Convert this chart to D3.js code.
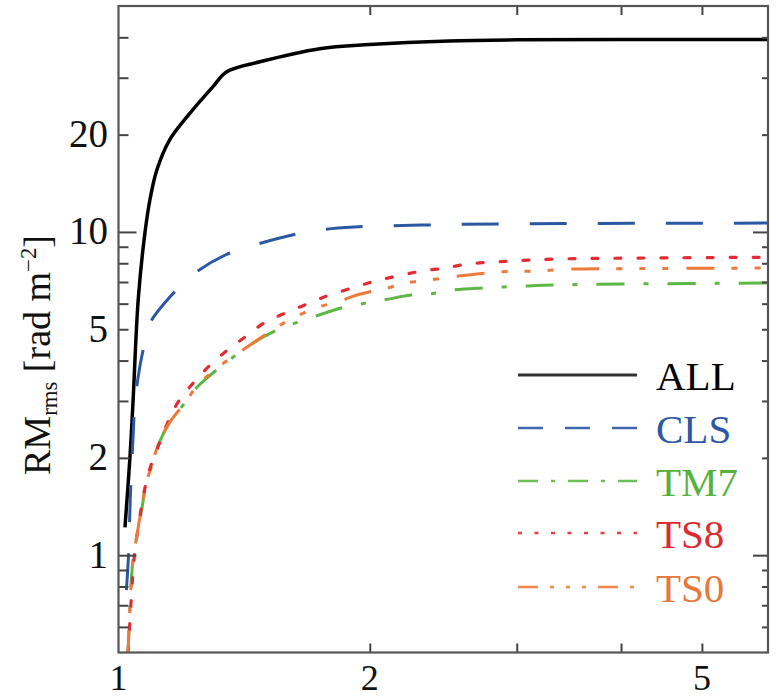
<!DOCTYPE html>
<html><head><meta charset="utf-8">
<script src="https://cdn.jsdelivr.net/npm/d3@7/dist/d3.min.js"></script>
<style>body{margin:0;background:#fff}svg{display:block}text{font-family:"Liberation Serif","Times New Roman",serif}</style>
</head><body>
<script>
// ---- data ----
const xTickLabels = [1, 2, 5];
const xMinorTicks = [2, 3, 4, 5];
const yTickLabels = [1, 2, 5, 10, 20];
const yMinorTicks = [0.6, 0.7, 0.8, 0.9, 1, 2, 3, 4, 5, 6, 7, 8, 9, 10, 20, 30, 40];
const yDecades = [1, 10];

const seriesNames = ["ALL", "CLS", "TM7", "TS8", "TS0"];
const seriesColors = ["#000000", "#2b57a3", "#5cb843", "#e32b33", "#ee7a3a"];
const textColors = ["#000000", "#2c58a4", "#56b23d", "#dd2a2f", "#e8783a"];

const allX = [1.018, 1.032, 1.041, 1.056, 1.076, 1.092, 1.112, 1.152, 1.218, 1.297, 1.348, 1.477, 1.742, 2.0, 2.49, 3.0, 4.0, 6.0];
const allY = [1.22, 2.0, 3.0, 6.2, 10.0, 12.8, 15.6, 19.3, 23.3, 28.1, 31.3, 33.6, 36.9, 38.0, 39.0, 39.3, 39.4, 39.4];

const clsX = [1.022, 1.028, 1.033, 1.04, 1.047, 1.06, 1.07, 1.085, 1.158, 1.235, 1.341, 1.457, 1.596, 1.74, 1.918, 2.3, 3.0, 6.0];
const clsY = [0.78, 1.0, 1.5, 2.2, 3.0, 3.8, 4.3, 5.1, 6.38, 7.46, 8.47, 9.12, 9.72, 10.14, 10.36, 10.5, 10.6, 10.65];

const tm7X = [1.026, 1.033, 1.04, 1.052, 1.067, 1.076, 1.094, 1.118, 1.152, 1.2, 1.245, 1.312, 1.444, 1.548, 1.727, 1.855, 2.08, 2.24, 2.38, 2.53, 2.73, 3.07, 3.31, 4.01, 6.0];
const tm7Y = [0.48, 0.72, 0.95, 1.15, 1.4, 1.6, 1.86, 2.22, 2.58, 2.95, 3.33, 3.75, 4.5, 4.97, 5.5, 5.83, 6.16, 6.38, 6.45, 6.62, 6.71, 6.8, 6.85, 6.9, 6.95];

const ts8X = [1.027, 1.035, 1.045, 1.06, 1.076, 1.094, 1.118, 1.146, 1.181, 1.228, 1.287, 1.352, 1.424, 1.5, 1.59, 1.686, 1.79, 1.91, 2.03, 2.16, 2.31, 2.46, 2.62, 2.8, 2.98, 3.39, 4.12, 6.0];
const ts8Y = [0.5, 0.71, 1.0, 1.3, 1.62, 1.9, 2.2, 2.58, 3.0, 3.4, 3.87, 4.32, 4.77, 5.26, 5.63, 6.0, 6.38, 6.72, 7.05, 7.31, 7.57, 7.73, 7.96, 8.06, 8.14, 8.25, 8.3, 8.35];

const ts0X = [1.026, 1.033, 1.04, 1.052, 1.064, 1.076, 1.094, 1.118, 1.152, 1.2, 1.245, 1.312, 1.444, 1.548, 1.627, 1.727, 1.84, 1.93, 2.1, 2.21, 2.36, 2.51, 2.67, 2.88, 3.05, 3.26, 3.47, 4.0, 6.0];
const ts0Y = [0.48, 0.72, 0.95, 1.15, 1.37, 1.6, 1.88, 2.22, 2.58, 2.95, 3.36, 3.79, 4.5, 5.08, 5.45, 5.83, 6.1, 6.38, 6.71, 6.95, 7.1, 7.26, 7.4, 7.53, 7.55, 7.6, 7.67, 7.7, 7.73];

const seriesX = [allX, clsX, tm7X, ts8X, ts0X];
const seriesY = [allY, clsY, tm7Y, ts8Y, ts0Y];

// ---- layout / styles ----
const W = 776, H = 697;
const L = 118.5, R = 768, T = 6, B = 652.5;
const dashes = [null, "37,31", "28,19,5,19", "6,17", "28,17,6,17,6,17,6,18"];
const legendDashes = [null, "25,22", "20,13,4,13", "4,12.5", "20,12,4,12,4,12,4,12"];
const widths = [3.5, 3, 3, 3.2, 3];
const fontSize = 39;

const svg = d3.select("body").append("svg").attr("width", W).attr("height", H);

const x = d3.scaleLog().domain([1, 6]).range([L, R]);
const y = d3.scaleLog().domain([0.5, 50]).range([B, T]);

svg.append("defs").append("clipPath").attr("id", "clip")
  .append("rect").attr("x", L).attr("y", T).attr("width", R - L).attr("height", B - T);

// curves
const line = d3.line().x(d => x(d[0])).y(d => y(d[1])).curve(d3.curveCatmullRom.alpha(0.5));
const g = svg.append("g").attr("clip-path", "url(#clip)");
seriesNames.forEach((n, i) => {
  const pts = seriesX[i].map((v, j) => [v, seriesY[i][j]]);
  g.append("path").datum(pts).attr("d", line)
    .attr("fill", "none").attr("stroke", seriesColors[i])
    .attr("stroke-width", widths[i])
    .attr("stroke-dasharray", dashes[i])
    .attr("stroke-linecap", i === 3 ? "round" : "butt")
    .attr("stroke-linejoin", "round");
});

// axes using d3 axis generators for ticks
const axColor = "#444";
function styleAxis(sel) {
  sel.select(".domain").remove();
  sel.selectAll(".tick line").attr("stroke", axColor).attr("stroke-width", 2);
}
svg.append("g").attr("transform", `translate(0,${B})`)
  .call(d3.axisBottom(x).tickValues(xMinorTicks).tickSize(-9).tickFormat(""))
  .call(styleAxis);
svg.append("g").attr("transform", `translate(0,${T})`)
  .call(d3.axisTop(x).tickValues(xMinorTicks).tickSize(-9).tickFormat(""))
  .call(styleAxis);
svg.append("g").attr("transform", `translate(${L},0)`)
  .call(d3.axisLeft(y).tickValues(yMinorTicks).tickSize(-10).tickFormat(""))
  .call(styleAxis)
  .selectAll(".tick line").attr("x2", d => yDecades.includes(d) ? 18 : (d === 2 ? 11 : 10));
svg.append("g").attr("transform", `translate(${R},0)`)
  .call(d3.axisRight(y).tickValues(yMinorTicks).tickSize(-6).tickFormat(""))
  .call(styleAxis)
  .selectAll(".tick line").attr("x2", d => yDecades.includes(d) ? -15 : -6);

// frame
svg.append("rect").attr("x", L).attr("y", T).attr("width", R - L).attr("height", B - T)
  .attr("fill", "none").attr("stroke", "#555").attr("stroke-width", 2.2);

// tick labels
svg.append("g").selectAll("text").data(xTickLabels).join("text")
  .attr("x", d => x(d)).attr("y", 690)
  .attr("text-anchor", "middle").attr("font-size", 36).attr("fill", "#111")
  .text(d => d);
svg.append("g").selectAll("text").data(yTickLabels).join("text")
  .attr("x", 108).attr("y", d => y(d) + 12.5)
  .attr("text-anchor", "end").attr("font-size", fontSize).attr("fill", "#111")
  .text(d => d);

// y title
const yt = svg.append("text")
  .attr("transform", "translate(50,355) rotate(-90)")
  .attr("text-anchor", "middle").attr("font-size", 38).attr("fill", "#111");
yt.append("tspan").text("RM");
yt.append("tspan").attr("font-size", 38 * 0.6).attr("dy", 7).text("rms");
yt.append("tspan").attr("dy", -7).text(" [rad m");
yt.append("tspan").attr("font-size", 38 * 0.6).attr("dy", -14).text("−2");
yt.append("tspan").attr("dy", 14).text("]");

// legend
const legY = [375, 428, 481, 533, 587];
const lg = svg.append("g");
seriesNames.forEach((n, i) => {
  lg.append("line").attr("x1", 518).attr("x2", 637).attr("y1", legY[i]).attr("y2", legY[i])
    .attr("stroke", seriesColors[i]).attr("stroke-width", i === 0 ? 2.8 : 2.4)
    .attr("stroke-dasharray", legendDashes[i])
    .attr("stroke-opacity", i === 0 ? 0.8 : 0.9);
  lg.append("text").attr("x", 656).attr("y", legY[i] + 15)
    .attr("font-size", 41).attr("fill", textColors[i]).text(n);
});
</script>
</body></html>
